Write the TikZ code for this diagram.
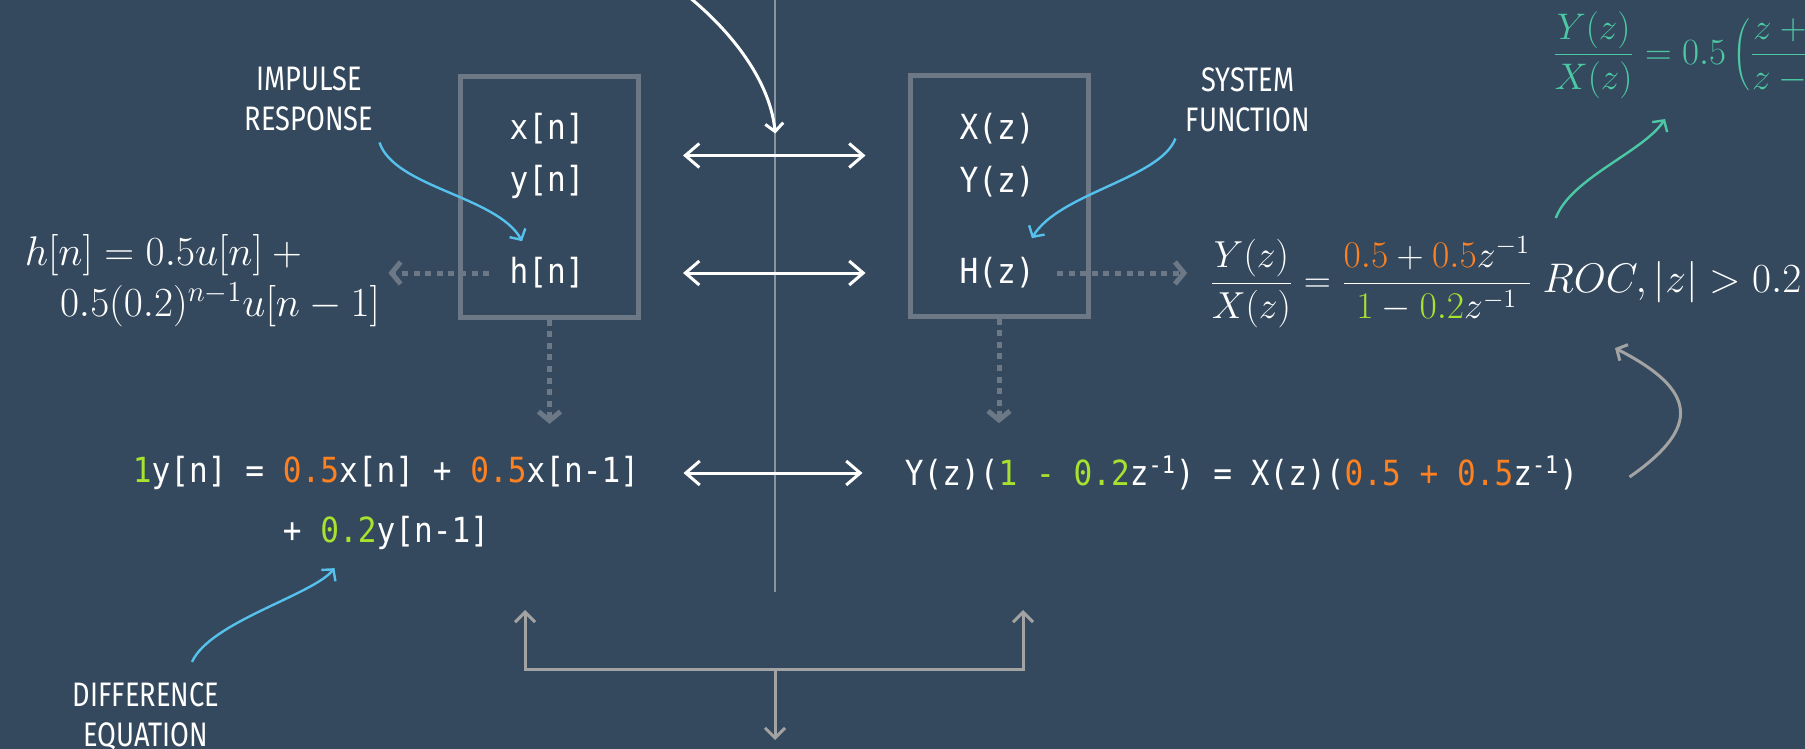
\RequirePackage{fix-cm}
\documentclass[tikz,border=0pt]{standalone}
\usepackage{fontspec}
\setmonofont[FakeStretch=0.9]{DejaVu Sans Mono}
\newfontfamily\sketchfont[FakeStretch=0.8]{Fira Sans}
\usepackage{xcolor}
\usetikzlibrary{arrows.meta,positioning,calc}

\definecolor{slate}{HTML}{34495E}
\definecolor{boxgrey}{HTML}{6C7885}
\definecolor{linegrey}{HTML}{A3A3A3}
\definecolor{divgrey}{HTML}{8795A3}
\definecolor{orng}{HTML}{FD8021}
\definecolor{lime}{HTML}{A6E22E}
\definecolor{sky}{HTML}{56C1EC}
\definecolor{mint}{HTML}{4CC9A4}

\begin{document}
\begin{tikzpicture}[
  x=0.5pt, y=-0.5pt,
  every node/.style={text=white},
  mono/.style={font=\ttfamily\fontsize{17.3}{20}\selectfont, inner sep=0pt},
  mathnode/.style={font=\fontsize{20.7}{25}\selectfont, inner sep=0pt},
  note/.style={font=\sketchfont\fontsize{17}{20}\selectfont, align=center, inner sep=0pt},
  sysbox/.style={draw=boxgrey, line width=2.5pt, minimum width=89pt, minimum height=120pt},
  dblarrow/.style={{Straight Barb[length=7pt,width=12pt]}-{Straight Barb[length=7pt,width=12pt]}, white, line width=1.5pt, shorten <=21pt, shorten >=21pt},
  dotarrow/.style={-{Straight Barb[length=4.5pt,width=11pt]}, boxgrey, line width=2.5pt, dash pattern=on 3pt off 2.8pt},
  pointer/.style={-{Straight Barb[length=4pt,width=9pt]}, line width=1.2pt},
  bracket/.style={linegrey, line width=1.5pt}
]
  \fill[slate] (0,0) rectangle (1805,749);
  \useasboundingbox (0,0) rectangle (1805,749);

  % divider
  \coordinate (divtop) at (775,0);
  \coordinate (divbot) at (775,592);
  \draw[divgrey, line width=0.7pt] (divtop) -- (divbot);

  % time domain
  \node[mono] (xn) at (547,129) {x[n]};
  \node[mono] (yn) at (547,182) {y[n]};
  \node[mono] (hn) at (547,273) {h[n]};
  \node[sysbox] (tbox) at (549.5,197) {};

  % z domain
  \node[mono] (Xz) at (997,129) {X(z)};
  \node[mono] (Yz) at (997,182) {Y(z)};
  \node[mono] (Hz) at (997,273) {H(z)};
  \node[sysbox] (zbox) at (999,196) {};

  \coordinate (row1) at ($(xn)!.5!(yn)$);
  \coordinate (row1mid) at ($(tbox.east |- row1)!.5!(zbox.west |- row1)$);
  \draw[dblarrow] (tbox.east |- row1) -- (zbox.west |- row1);
  \draw[dblarrow] (tbox.east |- hn) -- (zbox.west |- Hz);

  % equations
  \node[mono] (diffA) at (386,473) {\textcolor{lime}{1}y[n] = \textcolor{orng}{0.5}x[n] + \textcolor{orng}{0.5}x[n-1]};
  \node[mono] (diffB) at (386,533) {+ \textcolor{lime}{0.2}y[n-1]};
  \node[mono] (zeq) at (1241.5,473) {Y(z)(\textcolor{lime}{1 - 0.2}z\textsuperscript{-1}) = X(z)(\textcolor{orng}{0.5 + 0.5}z\textsuperscript{-1})};
  \draw[dblarrow, shorten <=22pt] (diffA.east) -- (zeq.west |- diffA.east);

  \node[mathnode] (hdefA) at (168,255) {$h[n] = 0.5u[n] +{}$};
  \node[mathnode] (hdefB) at (220,305) {$0.5(0.2)^{n-1}u[n-1]$};
  \node[mathnode, font=\fontsize{18.8}{23}\selectfont] (hfrac) at (1371,282) {$\displaystyle\frac{Y(z)}{X(z)} = \frac{\textcolor{orng}{0.5} + \textcolor{orng}{0.5}z^{-1}}{\textcolor{lime}{1} - \textcolor{lime}{0.2}z^{-1}}$};
  \node[mathnode] (roc) at (1672,282) {$ROC, |z| > 0.2$};
  \begin{scope}
    \clip (0,0) rectangle (1805,749);
    \node[mathnode, font=\fontsize{18.5}{23}\selectfont, text=mint, anchor=west] (tfrac) at (1552,55) {$\displaystyle\frac{Y(z)}{X(z)} = 0.5\left(\frac{z+{}}{z-{}}\right.$};
  \end{scope}

  % dotted links
  \draw[dotarrow, shorten <=10pt, shorten >=4pt] (hn.west) -- (hdefB.east |- hn);
  \draw[dotarrow, shorten <=11pt, shorten >=11pt] (Hz.east) -- (hfrac.west |- Hz);
  \draw[dotarrow, shorten >=16pt] (tbox.south) -- (tbox.south |- diffA.north);
  \draw[dotarrow, shorten >=16pt] (zbox.south) -- (zbox.south |- zeq.north);

  % labels
  \node[note] (implab) at (309,99) {IMPULSE\\RESPONSE};
  \node[note] (syslab) at (1248,100) {SYSTEM\\FUNCTION};
  \node[note] (difflab) at (146,716) {DIFFERENCE\\EQUATION};

  \draw[pointer, sky] ([shift={(6,11)}]implab.south east) .. controls +(15,45) and +(-25,-45) .. ([shift={(13,-16)}]hn.north west);
  \draw[pointer, sky] ([shift={(-10,6)}]syslab.south west) .. controls +(-15,40) and +(27,-45) .. ([shift={(-3,-19)}]Hz.north east);
  \draw[pointer, sky] ([shift={(46,-20)}]difflab.north) .. controls +(18,-40) and +(-22,27) .. ([shift={(52,18)}]diffB.south west);
  \draw[pointer, mint] ([shift={(23,-18)}]hfrac.north east) .. controls +(15,-40) and +(-22,33) .. ([shift={(113,20)}]tfrac.south west);
  \draw[pointer, linegrey, line width=1.5pt] ([shift={(51,4)}]zeq.east) .. controls +(72,-50) and +(82,42) .. ([shift={(-57,45)}]roc.south);

  % incoming arrow from above
  \coordinate (srcin) at (680,-10);
  \draw[pointer, white, line width=1.5pt] (srcin) .. controls +(40,30) and +(-6,-60) .. ([shift={(1,-22)}]row1mid);

  % bracket
  \coordinate (upL) at (525,610);
  \coordinate (upR) at (1023,610);
  \coordinate (fork) at (775,669);
  \coordinate (down) at (775,740);
  \draw[bracket, {Straight Barb[length=5pt,width=10pt]}-{Straight Barb[length=5pt,width=10pt]}] (upL) |- (fork) -| (upR);
  \draw[bracket, -{Straight Barb[length=5pt,width=10pt]}] (fork) -- (down);
\end{tikzpicture}
\end{document}
